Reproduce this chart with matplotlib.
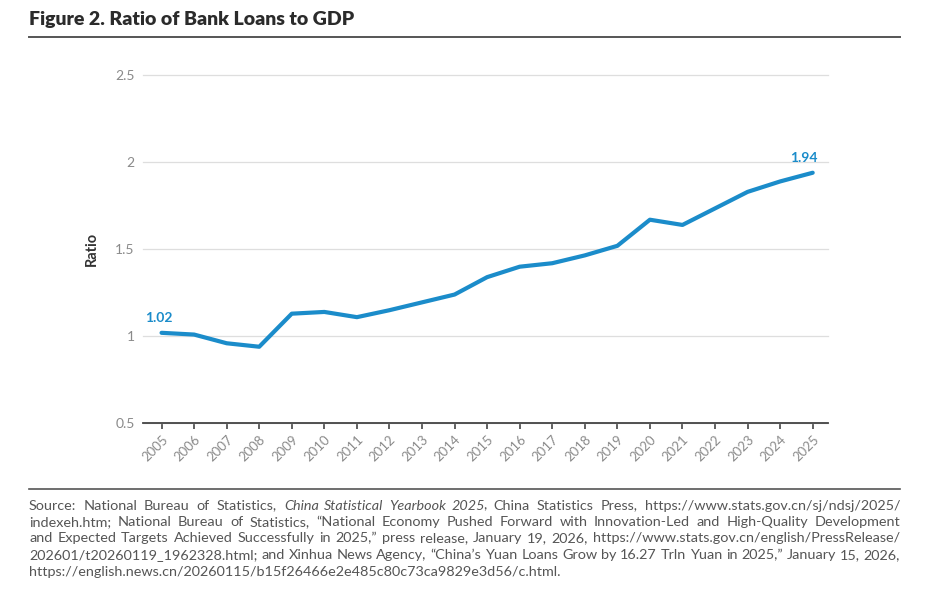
import matplotlib
matplotlib.use("Agg")
import matplotlib.pyplot as plt
from matplotlib.lines import Line2D

# ---------------- data ----------------
years = list(range(2005, 2026))
ratio = [1.02, 1.01, 0.96, 0.94, 1.13, 1.14, 1.11, 1.15, 1.195, 1.24,
         1.34, 1.40, 1.42, 1.465, 1.52, 1.67, 1.64, 1.735, 1.83, 1.89, 1.94]
y_ticks = [0.5, 1, 1.5, 2, 2.5]
y_tick_labels = ["0.5", "1", "1.5", "2", "2.5"]
x_tick_labels = [str(y) for y in years]
title = "Figure 2. Ratio of Bank Loans to GDP"
y_label = "Ratio"
first_label = "1.02"
last_label = "1.94"
source_lines = [
    [("Source: National Bureau of Statistics, ", False),
     ("China Statistical Yearbook 2025", True),
     (", China Statistics Press, https://www.stats.gov.cn/sj/ndsj/2025/", False)],
    [("indexeh.htm; National Bureau of Statistics, \u201cNational Economy Pushed Forward with "
      "Innovation-Led and High-Quality Development", False)],
    [("and Expected Targets Achieved Successfully in 2025,\u201d press release, January 19, 2026, "
      "https://www.stats.gov.cn/english/PressRelease/", False)],
    [("202601/t20260119_1962328.html; and Xinhua News Agency, \u201cChina\u2019s Yuan Loans Grow by "
      "16.27 Trln Yuan in 2025,\u201d January 15, 2026,", False)],
    [("https://english.news.cn/20260115/b15f26466e2e485c80c73ca9829e3d56/c.html.", False)],
]

# ---------------- style ----------------
FONT = ["Lato", "Open Sans", "DejaVu Sans"]
plt.rcParams["font.family"] = FONT
W, H = 931, 595
BLUE = "#1b8cca"

fig = plt.figure(figsize=(W / 100, H / 100), dpi=100)
fig.patch.set_facecolor("white")

def fx(px):
    return px / W

def fy(py):
    return 1 - py / H

# Title and rules
fig.text(fx(29), fy(20), title, fontsize=14, fontweight="heavy",
         color="#2b2b2b", ha="left", va="center")
fig.add_artist(Line2D([fx(29), fx(900)], [fy(37), fy(37)], color="#555555", lw=1.4))
fig.add_artist(Line2D([fx(29), fx(900)], [fy(489), fy(489)], color="#555555", lw=1.2))

# ---------------- axes ----------------
ax = fig.add_axes([fx(143), fy(423.3), (828 - 143) / W, (423.3 - 75.3) / H])
ax.plot(years, ratio, color=BLUE, lw=3, solid_capstyle="round", solid_joinstyle="round", zorder=3)
ax.set_xlim(2004.43, 2025.47)
ax.set_ylim(0.5, 2.5)
ax.set_yticks(y_ticks)
ax.set_yticklabels(y_tick_labels)
ax.set_xticks(years)
ax.set_xticklabels(x_tick_labels, rotation=45, ha="right", rotation_mode="anchor")
for s in ["left", "top", "right"]:
    ax.spines[s].set_visible(False)
ax.spines["bottom"].set_color("#444444")
ax.spines["bottom"].set_linewidth(1.3)
ax.spines["bottom"].set_zorder(4)
ax.tick_params(axis="y", length=0, pad=6, labelsize=10, labelcolor="#8a8a8a")
ax.tick_params(axis="x", length=4, width=1.2, color="#444444", pad=3,
               labelsize=9.5, labelcolor="#8a8a8a")
ax.grid(axis="y", color="#dedede", lw=0.9)
ax.set_axisbelow(True)
for gl in ax.get_ygridlines():
    gl.set_clip_on(False)
ax.set_ylabel(y_label, fontsize=10.5, fontweight="bold", color="#333333", labelpad=12)

ax.annotate(first_label, (years[0], ratio[0]), xytext=(-2.2, 10.8), textcoords="offset points",
            ha="center", va="center", fontsize=10, fontweight="bold", color=BLUE, annotation_clip=False)
ax.annotate(last_label, (years[-1], ratio[-1]), xytext=(-6.3, 10.4), textcoords="offset points",
            ha="center", va="center", fontsize=10, fontweight="bold", color=BLUE, annotation_clip=False)

# ---------------- justified source text ----------------
renderer = fig.canvas.get_renderer()
LEFT, RIGHT = 29, 900
TARGET = RIGHT - LEFT
baselines = [509.5, 526, 542.5, 559, 575.5]
SRC_COLOR = "#555555"

def words_of(segments):
    words = [[]]
    for txt, it in segments:
        parts = txt.split(" ")
        for i, p in enumerate(parts):
            if i > 0:
                words.append([])
            if p:
                words[-1].append((p, it))
    return [w for w in words if w]

def measure(text, size, italic):
    t = fig.text(0, 0, text, fontsize=size, fontstyle="italic" if italic else "normal")
    w = t.get_window_extent(renderer).width
    t.remove()
    return w - (1.5 if italic else 0)

def word_width(word, size):
    return sum(measure(p, size, it) for p, it in word)

def space_width(size):
    return measure("a a", size, False) - measure("aa", size, False)

all_words = [words_of(l) for l in source_lines]
size = 11.0
while size > 7:
    sp = space_width(size)
    widest = max(sum(word_width(w, size) for w in ws) + sp * 0.8 * (len(ws) - 1)
                 for ws in all_words[:-1])
    if widest <= TARGET:
        break
    size -= 0.1

sp = space_width(size)
for li, ws in enumerate(all_words):
    widths = [word_width(w, size) for w in ws]
    if li < len(all_words) - 1 and len(ws) > 1:
        gap = (TARGET - sum(widths)) / (len(ws) - 1)
    else:
        gap = sp
    x = LEFT
    for w, ww in zip(ws, widths):
        xp = x
        for p, it in w:
            fig.text(fx(xp), fy(baselines[li]), p, fontsize=size,
                     fontstyle="italic" if it else "normal", color=SRC_COLOR,
                     ha="left", va="baseline")
            xp += measure(p, size, it)
        x += ww + gap

fig.savefig("out.png", dpi=100, facecolor="white")
